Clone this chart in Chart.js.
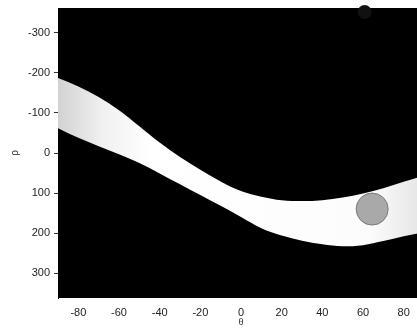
<!DOCTYPE html>
<html>
<head>
<meta charset="utf-8">
<script src="https://cdn.jsdelivr.net/npm/chart.js@4"></script>
<style>
  html, body { margin: 0; padding: 0; background: #fff; overflow: hidden; }
  canvas { display: block; }
</style>
</head>
<body>
<canvas id="hough" width="440" height="331"></canvas>
<script>
// theta samples (degrees) and band edges (rho)
var thetaVals = [-90, -80, -70, -60, -50, -40, -30, -20, -10, 0, 10, 20, 30, 40, 50, 60, 70, 80, 90];
var upperRho  = [-187, -166, -140, -107, -67, -26, 10, 42, 71, 95, 109, 118, 120, 118, 111, 101, 88, 72, 56];
var lowerRho  = [-62, -38, -17, 3, 25, 51, 78, 105, 132, 160, 188, 206, 219, 228, 233, 230, 220, 208, 198];

// grey blob inside the band, and the dark bump on the top frame
var blobTheta = [64.5];
var blobRho = [140];
var blobSize = [16];
var bumpTheta = [60.8];
var bumpRho = [-352];
var bumpSize = [7];

var xTicks = [-80, -60, -40, -20, 0, 20, 40, 60, 80];
var yTicks = [-300, -200, -100, 0, 100, 200, 300];

function toPoints(xs, ys) {
    return xs.map(function (x, i) { return {x: x, y: ys[i]}; });
}

function toBubbles(xs, ys, rs) {
    return xs.map(function (x, i) { return {x: x, y: ys[i], r: rs[i]}; });
}

/**
 * Horizontal gradient for the band, a little grey at both ends
 */
function bandFill(context) {
    var area = context.chart.chartArea;
    if (!area) {
        return '#ffffff';
    }
    var g = context.chart.ctx.createLinearGradient(area.left, 0, area.right, 0);
    g.addColorStop(0, '#d2d2d2');
    g.addColorStop(0.12, '#f0f0f0');
    g.addColorStop(0.25, '#ffffff');
    g.addColorStop(0.85, '#fcfcfc');
    g.addColorStop(1, '#e4e4e4');
    return g;
}

/**
 * Vertical gradient for the blob: darker at its top
 */
function blobFill(context) {
    var el = context.element;
    if (!el || el.y === undefined) {
        return '#a9a9a9';
    }
    var g = context.chart.ctx.createLinearGradient(0, el.y - 16, 0, el.y + 16);
    g.addColorStop(0, '#3a3a3a');
    g.addColorStop(0.2, '#9a9a9a');
    g.addColorStop(1, '#b4b4b4');
    return g;
}

var blackArea = {
    id: 'blackArea',
    beforeDatasetsDraw: function (chart) {
        var a = chart.chartArea;
        var ctx = chart.ctx;
        ctx.save();
        ctx.fillStyle = '#000';
        ctx.fillRect(a.left, a.top, a.right - a.left, a.bottom - a.top);
        ctx.restore();
    }
};

var tickFont = {family: '"Liberation Sans", Arial, sans-serif', size: 11};

function noPadding(scale) {
    scale.paddingTop = 0;
    scale.paddingBottom = 0;
    scale.paddingLeft = 0;
    scale.paddingRight = 0;
}

new Chart(document.getElementById('hough').getContext('2d'), {
    type: 'line',
    data: {
        datasets: [
            {
                label: 'upper',
                data: toPoints(thetaVals, upperRho),
                borderWidth: 0,
                pointRadius: 0,
                cubicInterpolationMode: 'monotone',
                fill: false,
                order: 2
            },
            {
                label: 'lower',
                data: toPoints(thetaVals, lowerRho),
                borderWidth: 0,
                pointRadius: 0,
                cubicInterpolationMode: 'monotone',
                fill: '-1',
                backgroundColor: bandFill,
                order: 2
            },
            {
                type: 'bubble',
                label: 'blob',
                data: toBubbles(blobTheta, blobRho, blobSize),
                backgroundColor: blobFill,
                borderColor: '#7a7a7a',
                borderWidth: 1,
                order: 1
            },
            {
                type: 'bubble',
                label: 'bump',
                data: toBubbles(bumpTheta, bumpRho, bumpSize),
                backgroundColor: '#111',
                borderWidth: 0,
                clip: false,
                order: 1
            }
        ]
    },
    options: {
        responsive: false,
        devicePixelRatio: 1,
        animation: false,
        layout: {autoPadding: false, padding: {left: 0, right: 16, top: 8, bottom: 0}},
        plugins: {
            legend: {display: false},
            tooltip: {enabled: false}
        },
        scales: {
            x: {
                type: 'linear',
                min: -90,
                max: 90,
                afterBuildTicks: function (scale) {
                    scale.ticks = xTicks.map(function (v) { return {value: v}; });
                },
                afterFit: function (scale) {
                    scale.height = 33;
                    noPadding(scale);
                },
                grid: {drawOnChartArea: false, drawTicks: false},
                border: {display: false},
                ticks: {color: '#222', font: tickFont, padding: 8, maxRotation: 0},
                title: {
                    display: true,
                    text: 'θ',
                    color: '#333',
                    font: {family: '"Liberation Sans", Arial, sans-serif', size: 9},
                    padding: {top: 0, bottom: 3}
                }
            },
            y: {
                type: 'linear',
                reverse: true,
                min: -362,
                max: 362,
                afterBuildTicks: function (scale) {
                    scale.ticks = yTicks.map(function (v) { return {value: v}; });
                },
                afterFit: function (scale) {
                    scale.width = 58;
                    noPadding(scale);
                },
                grid: {drawOnChartArea: false, drawTicks: true, tickLength: 4, color: '#333'},
                border: {display: true, color: '#000'},
                ticks: {color: '#222', font: tickFont, padding: 4},
                title: {
                    display: true,
                    text: 'ρ',
                    color: '#333',
                    font: {family: '"Liberation Sans", Arial, sans-serif', size: 10},
                    padding: {top: 9, bottom: 0}
                }
            }
        }
    },
    plugins: [blackArea]
});
</script>
</body>
</html>
